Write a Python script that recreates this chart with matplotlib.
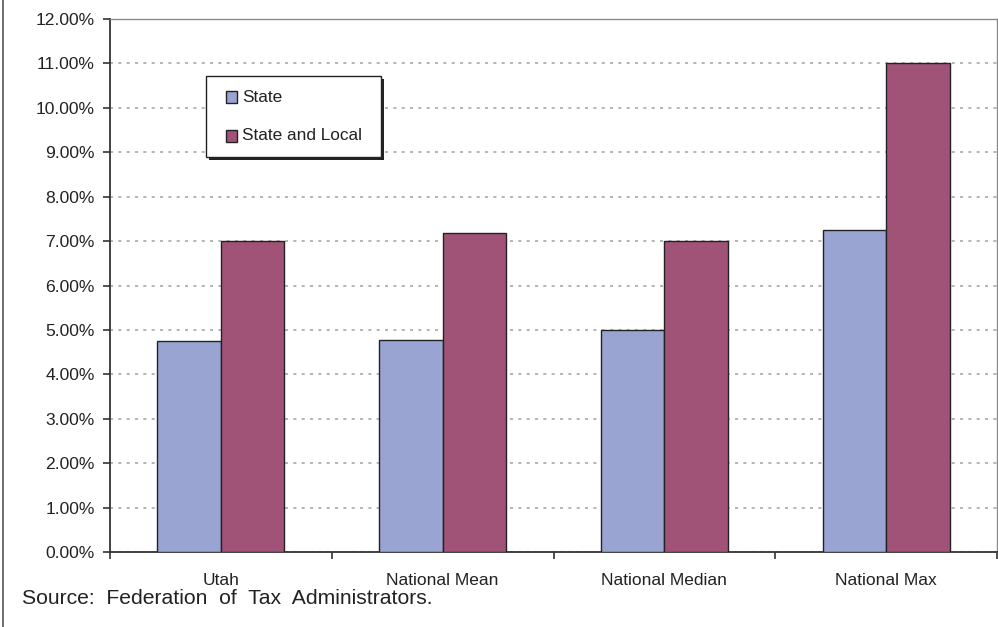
import matplotlib
matplotlib.use("Agg")
import matplotlib.pyplot as plt
from matplotlib.lines import Line2D
from matplotlib.patches import Rectangle
from matplotlib.ticker import FixedLocator, PercentFormatter
import numpy as np

categories = ["Utah", "National Mean", "National Median", "National Max"]
state_rates = [4.75, 4.78, 5.00, 7.25]
state_local_rates = [7.00, 7.19, 7.00, 11.00]
series_names = ["State", "State and Local"]
y_ticks = [0, 1, 2, 3, 4, 5, 6, 7, 8, 9, 10, 11, 12]
source_note = "Source:  Federation  of  Tax  Administrators."

plt.rcParams["font.family"] = ["Liberation Sans", "DejaVu Sans"]
plt.rcParams["lines.scale_dashes"] = False

W, H, DPI = 998, 627, 100
fig = plt.figure(figsize=(W / DPI, H / DPI), dpi=DPI)
ax = fig.add_axes([110 / W, 1 - 552 / H, (997 - 110) / W, (552 - 19) / H])

x = np.arange(len(categories))
bw = 0.286
state_color = "#99A4D2"
local_color = "#A05377"
edge = "#222222"
colors = [state_color, local_color]
ax.bar(x - bw / 2, state_rates, bw, color=state_color, edgecolor=edge,
       linewidth=1.0, zorder=3, label=series_names[0])
ax.bar(x + bw / 2, state_local_rates, bw, color=local_color, edgecolor=edge,
       linewidth=1.0, zorder=3, label=series_names[1])

ax.set_xlim(-0.5, len(categories) - 0.5)
ax.set_ylim(0, 12)
ax.yaxis.set_major_locator(FixedLocator(y_ticks))
ax.yaxis.set_major_formatter(PercentFormatter(decimals=2))
ax.yaxis.grid(True, color="#A0A0A0", linewidth=1.1, linestyle=(0, (2.2, 3.8)), zorder=0)

ax.set_xticks(x)
ax.set_xticklabels(categories)
ax.set_xticks(np.arange(len(categories) + 1) - 0.5, minor=True)
ax.tick_params(axis="x", which="major", length=0, pad=15, labelsize=12.5, colors="#222222")
ax.tick_params(axis="x", which="minor", length=5, width=1.2, color="#333333")
ax.tick_params(axis="y", length=5, width=1.2, color="#333333", pad=6, labelsize=12.6,
               labelcolor="#222222")

for side in ("left", "bottom"):
    ax.spines[side].set_color("#333333")
    ax.spines[side].set_linewidth(1.3)
for side in ("top", "right"):
    ax.spines[side].set_color("#8A8A8A")
    ax.spines[side].set_linewidth(1.0)

# Legend box with a drop shadow, laid out in pixel coordinates
def px(xp, yp):
    return xp / W, 1 - yp / H

lx0, ly0, lx1, ly1 = 206, 76, 381, 157
shadow = Rectangle(px(lx0 + 3, ly1 + 3), (lx1 - lx0) / W, (ly1 - ly0) / H,
                   transform=fig.transFigure, facecolor="#222222", edgecolor="none",
                   zorder=10)
box = Rectangle(px(lx0, ly1), (lx1 - lx0) / W, (ly1 - ly0) / H,
                transform=fig.transFigure, facecolor="white", edgecolor=edge,
                linewidth=1.0, zorder=11)
fig.add_artist(shadow)
fig.add_artist(box)
for i, (name, col) in enumerate(zip(series_names, colors)):
    cy = 97 + 39 * i
    fig.add_artist(Rectangle(px(226, cy + 5.5), 11 / W, 11 / H, transform=fig.transFigure,
                             facecolor=col, edgecolor=edge, linewidth=1.0, zorder=12))
    fig.text(*px(242, cy), name, fontsize=12.4, va="center", ha="left",
             color="#222222", zorder=12)

fig.text(22 / W, 1 - 599 / H, source_note, fontsize=15.2, va="center", ha="left",
         color="#222222")
fig.add_artist(Line2D([3 / W, 3 / W], [0, 1], transform=fig.transFigure,
                      color="#555555", linewidth=1.2))

fig.savefig("out.png", dpi=DPI)
